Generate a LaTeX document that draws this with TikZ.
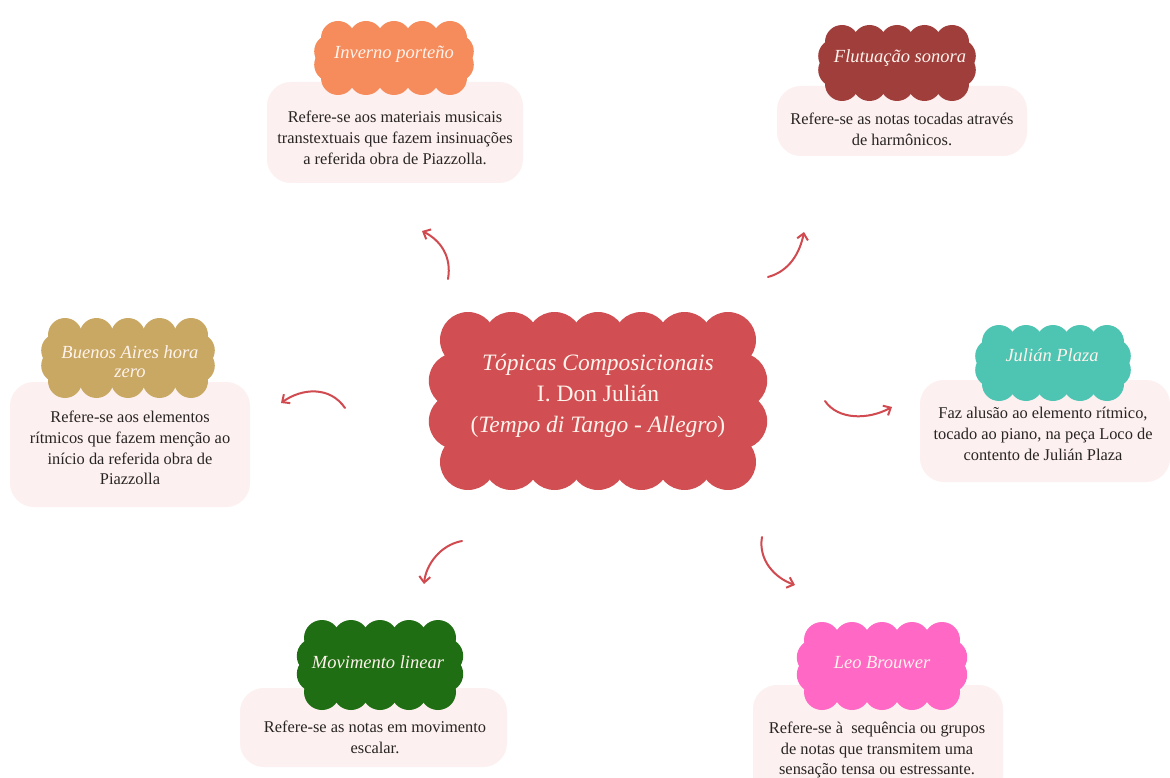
\documentclass[tikz,border=0pt]{standalone}
\usepackage{fontspec}
\setmainfont{Liberation Serif}
\usetikzlibrary{arrows.meta}

\definecolor{cMain}{RGB}{209,78,82}
\definecolor{cInv}{RGB}{246,140,92}
\definecolor{cFlu}{RGB}{160,62,60}
\definecolor{cBue}{RGB}{201,168,100}
\definecolor{cJul}{RGB}{78,196,178}
\definecolor{cMov}{RGB}{32,110,20}
\definecolor{cLeo}{RGB}{255,104,196}
\definecolor{cBox}{RGB}{253,240,240}
\definecolor{cArrow}{RGB}{208,74,80}
\definecolor{cTitle}{RGB}{255,243,236}
\definecolor{cBody}{RGB}{40,36,36}

% Scalloped cloud: fill colour, centre x, centre y, half width, half height,
% bump radius, bump steps across, bump steps down
\newcommand{\cloudshape}[8]{%
  \pgfmathsetmacro{\scA}{#4-#6}%
  \pgfmathsetmacro{\scB}{#5-#6}%
  \pgfmathsetmacro{\scS}{2*\scA/#7}%
  \pgfmathsetmacro{\scT}{2*\scB/#8}%
  \pgfmathsetmacro{\scE}{0.4*#6}%
  \pgfmathtruncatemacro{\scM}{#8-1}%
  \fill[#1] ({#2-\scA},{#3-\scB}) rectangle ({#2+\scA},{#3+\scB});
  \foreach \i in {0,...,#7}{%
    \fill[#1] ({#2-\scA+\i*\scS},{#3-\scB}) circle[radius=#6pt];
    \fill[#1] ({#2-\scA+\i*\scS},{#3+\scB}) circle[radius=#6pt];
  }
  \foreach \j in {1,...,\scM}{%
    \fill[#1] ({#2-\scA-\scE},{#3-\scB+\j*\scT}) circle[radius=#6pt];
    \fill[#1] ({#2+\scA+\scE},{#3-\scB+\j*\scT}) circle[radius=#6pt];
  }
}

\tikzset{
  infobox/.style={fill=cBox, rounded corners=24pt},
  bodytext/.style={text=cBody, align=center, font=\fontsize{16.4}{20.8}\selectfont},
  titletext/.style={text=cTitle, align=center, font=\fontsize{18.5}{19}\selectfont\itshape},
  maintext/.style={text=cTitle, align=center, font=\fontsize{23.5}{31}\selectfont},
  link/.style={draw=cArrow, line width=2pt, line cap=round,
    -{Straight Barb[length=6pt,width=11pt,line width=2pt]}},
}

\begin{document}
\begin{tikzpicture}[x=1pt,y=-1pt]
\useasboundingbox (0,0) rectangle (1170,778);
\fill[white] (0,0) rectangle (1170,778);

% central topic
\cloudshape{cMain}{598}{401}{158}{89}{28}{6}{3}
\node[maintext] (main) at (598,396)
  {\textit{Tópicas Composicionais}\\I. Don Julián\\(\textit{Tempo di Tango - Allegro})};

% Inverno porteño
\fill[infobox] (267,82) rectangle (523,183);
\cloudshape{cInv}{394}{58}{73}{37}{17}{4}{3}
\node[titletext] (inv) at (394,54) {Inverno porteño};
\node[bodytext] (invtxt) at (395,138)
  {Refere-se aos materiais musicais\\transtextuais que fazem insinuações\\a referida obra de Piazzolla.};

% Flutuação sonora
\fill[infobox] (777,86) rectangle (1027,156);
\cloudshape{cFlu}{897}{63}{72}{38}{17}{4}{3}
\node[titletext] (flu) at (900,58) {Flutuação sonora};
\node[bodytext] (flutxt) at (902,129)
  {Refere-se as notas tocadas através\\de harmônicos.};

% Buenos Aires hora zero
\fill[infobox] (10,382) rectangle (250,507);
\cloudshape{cBue}{128}{358}{80}{40}{17}{4}{3}
\node[titletext] (bue) at (130,362) {Buenos Aires hora\\zero};
\node[bodytext] (buetxt) at (130,448)
  {Refere-se aos elementos\\rítmicos que fazem menção ao\\início da referida obra de\\Piazzolla};

% Julián Plaza
\fill[infobox] (920,380) rectangle (1170,482);
\cloudshape{cJul}{1053}{363}{71}{38}{17}{4}{3}
\node[titletext] (jul) at (1052,355) {Julián Plaza};
\node[bodytext] (jultxt) at (1043,434)
  {Faz alusão ao elemento rítmico,\\tocado ao piano, na peça Loco de\\contento de Julián Plaza};

% Movimento linear
\fill[infobox] (240,688) rectangle (507,767);
\cloudshape{cMov}{380}{665}{76}{45}{18}{4}{3}
\node[titletext] (mov) at (378,662) {Movimento linear};
\node[bodytext] (movtxt) at (375,737)
  {Refere-se as notas em movimento\\escalar.};

% Leo Brouwer
\fill[infobox] (753,685) rectangle (1003,800);
\cloudshape{cLeo}{882}{666}{78}{44}{18}{4}{3}
\node[titletext] (leo) at (882,663) {Leo Brouwer};
\node[bodytext] (leotxt) at (877,750)
  {Refere-se à~ sequência ou grupos\\de notas que transmitem uma\\sensação tensa ou estressante.};

% curved arrows radiating from the central topic
\coordinate (a1s) at (448,279); \coordinate (a1e) at (422,231);
\coordinate (a2s) at (768,277); \coordinate (a2e) at (804,232);
\coordinate (a3s) at (345,408); \coordinate (a3e) at (281,403);
\coordinate (a4s) at (825,401); \coordinate (a4e) at (892,407);
\coordinate (a5s) at (462,541); \coordinate (a5e) at (424,584);
\coordinate (a6s) at (762,537); \coordinate (a6e) at (795,585);

\draw[link] (a1s) .. controls (452,256) and (440,240) .. (a1e);
\draw[link] (a2s) .. controls (790,271) and (800,252) .. (a2e);
\draw[link] (a3s) .. controls (330,386) and (302,388) .. (a3e);
\draw[link] (a4s) .. controls (838,420) and (868,420) .. (a4e);
\draw[link] (a5s) .. controls (440,545) and (426,565) .. (a5e);
\draw[link] (a6s) .. controls (758,560) and (775,578) .. (a6e);
\end{tikzpicture}
\end{document}
